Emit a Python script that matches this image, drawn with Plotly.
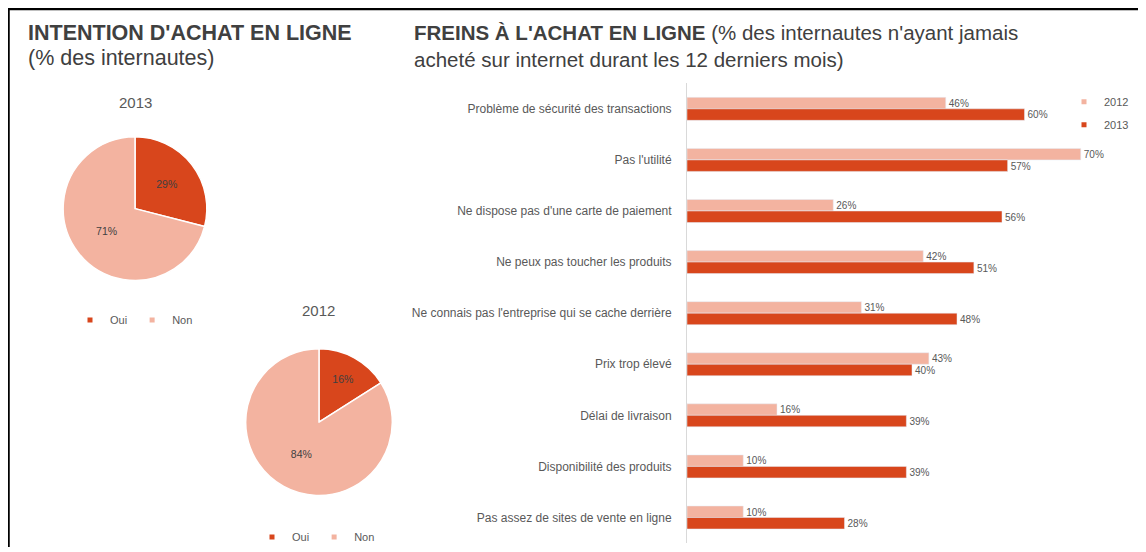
import plotly.graph_objects as go

# page body adds an 8px margin, so the figure is 8px smaller and offset
OFF = 8
W, H = 1146 - OFF, 552 - OFF

# ---- data ----
categories = [
    "Problème de sécurité des transactions",
    "Pas l'utilité",
    "Ne dispose pas d'une carte de paiement",
    "Ne peux pas toucher les produits",
    "Ne connais pas l'entreprise qui se cache derrière",
    "Prix trop élevé",
    "Délai de livraison",
    "Disponibilité des produits",
    "Pas assez de sites de vente en ligne",
]
values_2012 = [46, 70, 26, 42, 31, 43, 16, 10, 10]
values_2013 = [60, 57, 56, 51, 48, 40, 39, 39, 28]
years = ["2012", "2013"]

pie_labels = ["Oui", "Non"]
pie_2013 = [29, 71]
pie_2012 = [16, 84]

C_DARK = "#D8461C"
C_LIGHT = "#F3B3A0"
TXT = "#595959"
FONT = "Liberation Sans, Arial, sans-serif"


def px(x):
    return (x - OFF) / W


def py(y):
    return 1 - (y - OFF) / H


fig = go.Figure()

bar_cols = {"2012": C_LIGHT, "2013": C_DARK}
for yr, vals in zip(years, [values_2012, values_2013]):
    fig.add_trace(go.Bar(
        y=categories, x=vals, name=yr, orientation="h",
        marker=dict(color=bar_cols[yr]),
        text=[f"{v}%" for v in vals], textposition="outside",
        textfont=dict(size=10.5, color=TXT), cliponaxis=False, showlegend=False,
    ))
    # compact legend entry (small square marker)
    fig.add_trace(go.Scatter(
        x=[None], y=[None], mode="markers", name=yr, legendgroup=yr,
        marker=dict(symbol="square", size=5, color=bar_cols[yr]), legend="legend",
    ))

pie_specs = [
    (pie_2013, dict(x=[px(62), px(208)], y=[py(283), py(138)]), "legend2"),
    (pie_2012, dict(x=[px(245), px(393)], y=[py(500), py(352)]), "legend3"),
]
for vals, dom, leg in pie_specs:
    fig.add_trace(go.Pie(
        labels=pie_labels, values=vals, sort=False, direction="clockwise", rotation=0,
        marker=dict(colors=[C_DARK, C_LIGHT], line=dict(color="white", width=1.5)),
        texttemplate="%{value}%", textposition="inside", insidetextorientation="horizontal",
        textfont=dict(size=10.5, color="#404040"),
        domain=dom, showlegend=False, hoverinfo="label+percent",
    ))
    for lab, col in zip(pie_labels, [C_DARK, C_LIGHT]):
        fig.add_trace(go.Scatter(
            x=[None], y=[None], mode="markers", name=lab, legend=leg,
            marker=dict(symbol="square", size=5, color=col),
        ))

ann = []
left_font = dict(size=21.5, color="#404040", family=FONT)
title_font = dict(size=20.5, color="#404040", family=FONT)
ann.append(dict(x=px(26), y=py(33), xref="paper", yref="paper", xanchor="left", yanchor="middle",
                text="<b>INTENTION D'ACHAT EN LIGNE</b>", showarrow=False, font=left_font))
ann.append(dict(x=px(26), y=py(58), xref="paper", yref="paper", xanchor="left", yanchor="middle",
                text="(% des internautes)", showarrow=False, font=left_font))
ann.append(dict(x=px(412), y=py(33), xref="paper", yref="paper", xanchor="left", yanchor="middle",
                text="<b>FREINS À L'ACHAT EN LIGNE</b> (% des internautes n'ayant jamais",
                showarrow=False, font=title_font))
ann.append(dict(x=px(412), y=py(60), xref="paper", yref="paper", xanchor="left", yanchor="middle",
                text="acheté sur internet durant les 12 derniers mois)", showarrow=False,
                font=title_font))
ann.append(dict(x=px(136), y=py(103), xref="paper", yref="paper", xanchor="center", yanchor="middle",
                text="2013", showarrow=False, font=dict(size=15, color=TXT, family=FONT)))
ann.append(dict(x=px(318), y=py(313), xref="paper", yref="paper", xanchor="center", yanchor="middle",
                text="2012", showarrow=False, font=dict(size=15, color=TXT, family=FONT)))

shapes = [
    dict(type="line", xref="paper", yref="paper", x0=0, x1=1, y0=1 - 1 / H, y1=1 - 1 / H,
         line=dict(color="black", width=2.5)),
    dict(type="line", xref="paper", yref="paper", x0=0.5 / W, x1=0.5 / W, y0=0, y1=1,
         line=dict(color="black", width=2.5)),
]

fig.update_layout(
    width=W, height=H,
    margin=dict(l=0, r=0, t=0, b=0),
    paper_bgcolor="white", plot_bgcolor="white",
    font=dict(family=FONT, color=TXT),
    barmode="group", bargap=0.55, bargroupgap=0.0,
    xaxis=dict(domain=[px(687), px(1137)], range=[0, 80], visible=False, fixedrange=True),
    yaxis=dict(domain=[py(548), py(84)], autorange="reversed", showline=True,
               linecolor="#d9d9d9", linewidth=1, ticks="", ticklabelstandoff=12,
               tickfont=dict(size=12, color=TXT), showgrid=False),
    legend=dict(x=px(1064), y=py(88), xanchor="left", yanchor="top",
                font=dict(size=11, color=TXT), itemwidth=30, tracegroupgap=4,
                bgcolor="rgba(0,0,0,0)"),
    legend2=dict(orientation="h", x=px(134), y=py(323), xanchor="center", yanchor="middle",
                 font=dict(size=11, color=TXT), itemwidth=30, bgcolor="rgba(0,0,0,0)"),
    legend3=dict(orientation="h", x=px(316), y=py(542), xanchor="center", yanchor="middle",
                 font=dict(size=11, color=TXT), itemwidth=30, bgcolor="rgba(0,0,0,0)"),
    annotations=ann,
    shapes=shapes,
)

fig.write_html("out.html")
